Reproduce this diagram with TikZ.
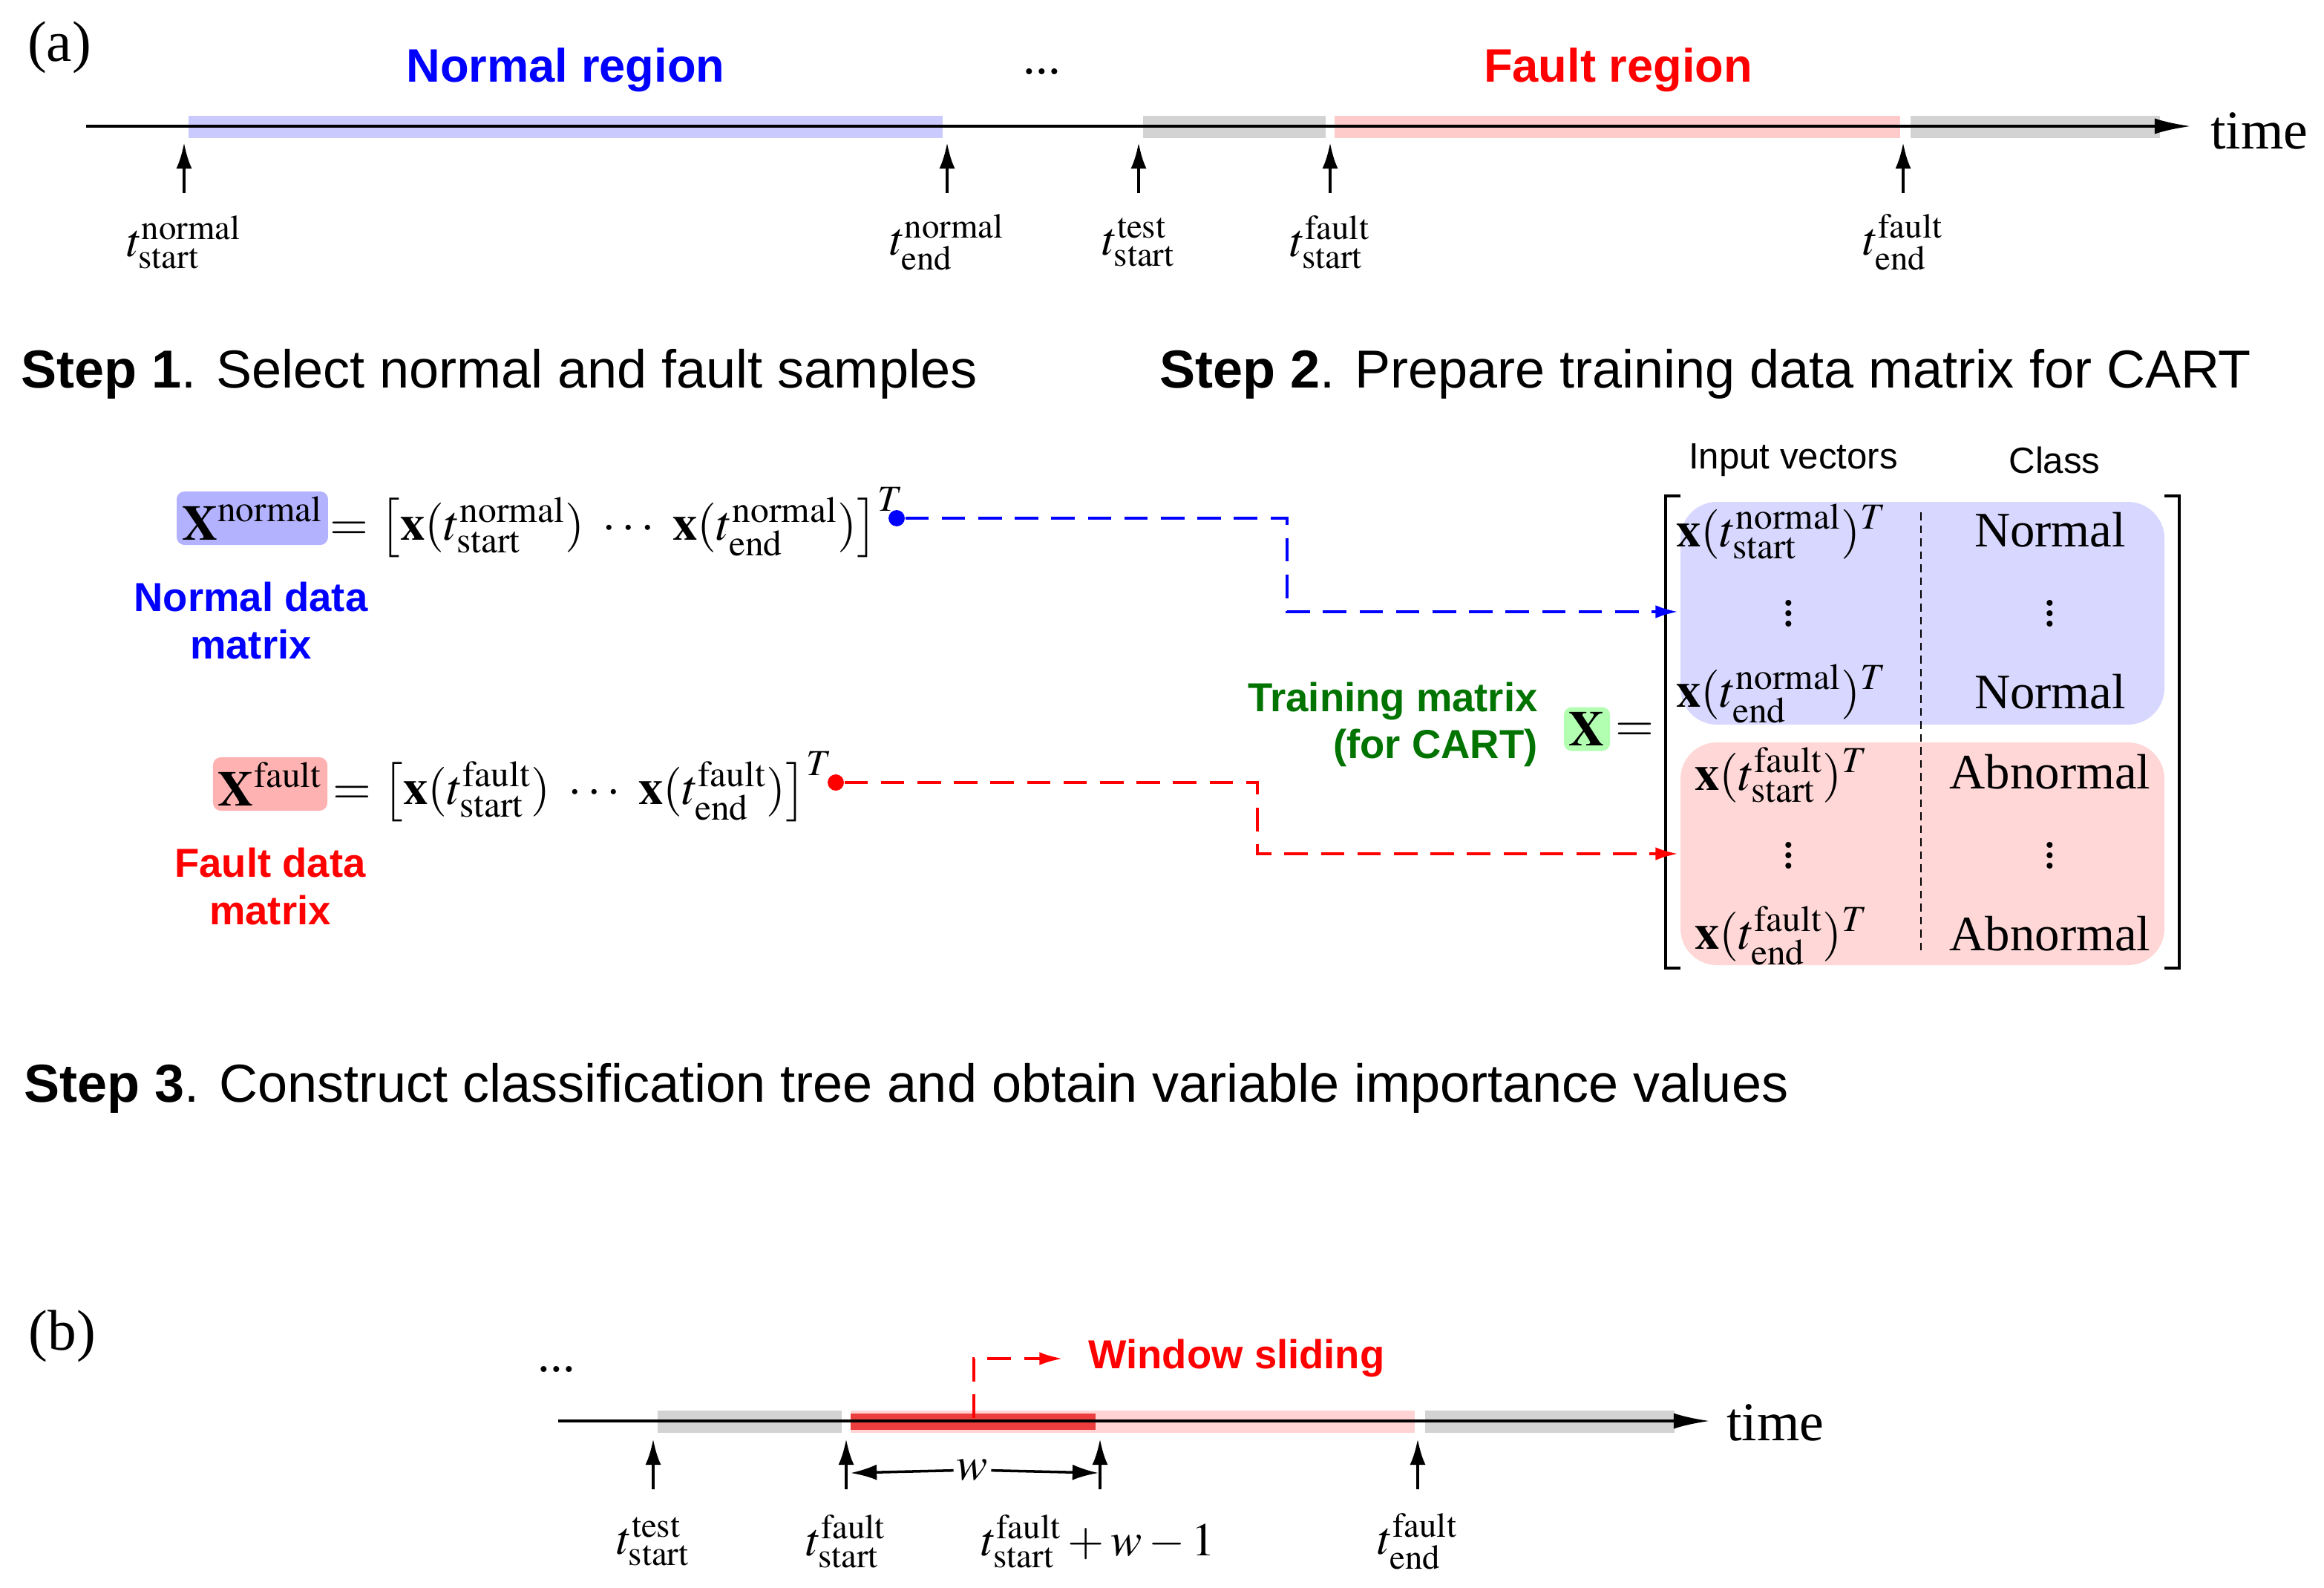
\documentclass[tikz,border=0pt]{standalone}
\usepackage{mathptmx}
\usepackage{fontspec}
\setmainfont{Liberation Serif}
\newfontfamily\sansf{Liberation Sans}
\usetikzlibrary{arrows.meta}
\newcommand\tl[2]{$t^{\mathrm{#1}}_{\mathrm{#2}}$}
\begin{document}
\begin{tikzpicture}[x=0.02cm,y=-0.02cm,
  lab/.style={font=\sansf\bfseries\fontsize{15.5}{18}\selectfont},
  steptxt/.style={font=\sansf\fontsize{20.5}{24}\selectfont,anchor=west},
  tlab/.style={font=\fontsize{18}{20}\selectfont},
  big/.style={font=\fontsize{19}{22}\selectfont},
  up/.style={-{Latex[length=10pt,width=6pt]},line width=1.3pt},
  axis/.style={-{Latex[length=14pt,width=6pt]},line width=1.2pt},
  band/.style={fill opacity=0.35},
  dot/.style={circle,fill,inner sep=2.2pt},
  conn/.style={dashed,dash pattern=on 9pt off 5pt,line width=1.4pt,-{Latex[length=9pt,width=5pt]}}]
\useasboundingbox (0,0) rectangle (1565.5,1069);
% (a)
\node[big,font=\fontsize{22}{24}\selectfont] (pa) at (40,32) {(a)};
\fill[blue!60,band] (127,78) rectangle (635,93);
\fill[gray,band] (770,78) rectangle (893,93);
\fill[red!60,band] (899,78) rectangle (1280,93);
\fill[gray,band] (1287,78) rectangle (1455,93);
\coordinate (a0) at (58,85); \coordinate (a1) at (1476,85);
\draw[axis] (a0) -- (a1);
\node[lab,text=blue,font=\sansf\bfseries\fontsize{18}{20}\selectfont] (nr) at (381,47) {Normal region};
\node[lab,text=red,font=\sansf\bfseries\fontsize{18}{20}\selectfont] (fr) at (1090,47) {Fault region};
\node[big] (d1) at (702,48) {...};
\node[big,font=\fontsize{21}{24}\selectfont] (t1) at (1522,88) {time};
\foreach \x/\s/\b/\n in {124/normal/start/u1,638/normal/end/u2,767/test/start/u3,896/fault/start/u4,1282/fault/end/u5}{
  \coordinate (\n b) at (\x,130); \coordinate (\n t) at (\x,96);
  \draw[up] (\n b) -- (\n t);
  \node[tlab] (\n l) at (\x,163) {\tl{\s}{\b}};
}
\node[steptxt] (s1) at (8,252) {\textbf{Step 1}. Select normal and fault samples};
\node[steptxt] (s2) at (775,252) {\textbf{Step 2}. Prepare training data matrix for CART};
% normal matrix
\node[fill=blue!30,rounded corners=3pt,inner sep=2pt,big] (xn) at (170,349) {$\mathbf{X}^{\mathrm{normal}}$};
\node[big,anchor=west,inner sep=0pt] (en) at (222,352) {$=\left[\mathbf{x}(t^{\mathrm{normal}}_{\mathrm{start}})\ \cdots\ \mathbf{x}(t^{\mathrm{normal}}_{\mathrm{end}})\right]^T$};
\node[dot,blue] (pn) at (604,349) {};
\node[lab,text=blue,align=center] (ln) at (169,418) {Normal data\\matrix};
% fault matrix
\node[fill=red!30,rounded corners=3pt,inner sep=2pt,big] (xf) at (182,528) {$\mathbf{X}^{\mathrm{fault}}$};
\node[big,anchor=west,inner sep=0pt] (ef) at (224,530) {$=\left[\mathbf{x}(t^{\mathrm{fault}}_{\mathrm{start}})\ \cdots\ \mathbf{x}(t^{\mathrm{fault}}_{\mathrm{end}})\right]^T$};
\node[dot,red] (pf) at (563,527) {};
\node[lab,text=red,align=center] (lf) at (182,597) {Fault data\\matrix};
% training
\node[lab,text=green!45!black,align=right,anchor=east] (tm) at (1042,488) {Training matrix\\(for CART)};
\node[fill=green!30,rounded corners=3pt,inner sep=2pt,big] (xx) at (1069,491) {$\mathbf{X}$};
\node[big] (eq) at (1101,493) {$=$};
\fill[blue!45,band,rounded corners=14pt] (1132,338) rectangle (1458,488);
\fill[red!45,band,rounded corners=14pt] (1132,500) rectangle (1458,650);
\draw[line width=1pt] (1132,334) -- (1122,334) -- (1122,652) -- (1132,652);
\draw[line width=1pt] (1458,334) -- (1468,334) -- (1468,652) -- (1458,652);
\draw[dash pattern=on 3pt off 2pt,line width=0.8pt] (1294,345) -- (1294,642);
\node[font=\sansf\fontsize{14}{16}\selectfont] (iv) at (1208,310) {Input vectors};
\node[font=\sansf\fontsize{14}{16}\selectfont] (cl) at (1384,310) {Class};
\node[big] (r1) at (1200,358) {$\mathbf{x}(t^{\mathrm{normal}}_{\mathrm{start}})^T$};
\node[big,inner sep=0pt] (r2) at (1205,408) {$\vdots$};
\node[big] (r3) at (1200,467) {$\mathbf{x}(t^{\mathrm{normal}}_{\mathrm{end}})^T$};
\node[big] (r4) at (1200,522) {$\mathbf{x}(t^{\mathrm{fault}}_{\mathrm{start}})^T$};
\node[big,inner sep=0pt] (r5) at (1205,571) {$\vdots$};
\node[big] (r6) at (1200,630) {$\mathbf{x}(t^{\mathrm{fault}}_{\mathrm{end}})^T$};
\node[big] (c1) at (1381,357) {Normal};
\node[big,inner sep=0pt] (c2) at (1381,408) {$\vdots$};
\node[big] (c3) at (1381,466) {Normal};
\node[big] (c4) at (1381,520) {Abnormal};
\node[big,inner sep=0pt] (c5) at (1381,571) {$\vdots$};
\node[big] (c6) at (1381,629) {Abnormal};
\coordinate (en1) at (1131,412); \coordinate (ef1) at (1131,575);
\draw[conn,blue] (pn) -- (867,349) -- (867,412) -- (en1);
\draw[conn,red] (pf) -- (847,527) -- (847,575) -- (ef1);
\node[steptxt] (s3) at (10,733) {\textbf{Step 3}. Construct classification tree and obtain variable importance values};
% (b)
\node[big,font=\fontsize{22}{24}\selectfont] (pb) at (42,900) {(b)};
\fill[gray,band] (443,950) rectangle (567,965);
\fill[red!50,band] (573,950) rectangle (953,965);
\fill[red!90!black,opacity=0.7] (573,952) rectangle (738,963);
\fill[gray,band] (960,950) rectangle (1128,965);
\coordinate (b0) at (376,957); \coordinate (b1) at (1152,957);
\draw[axis] (b0) -- (b1);
\node[big] (d2) at (375,922) {...};
\node[big,font=\fontsize{21}{24}\selectfont] (t2) at (1196,958) {time};
\foreach \x/\s/\b/\n in {440/test/start/v1,570/fault/start/v2,955/fault/end/v4}{
  \coordinate (\n b) at (\x,1003); \coordinate (\n t) at (\x,969);
  \draw[up] (\n b) -- (\n t);
  \node[tlab] (\n l) at (\x,1038) {\tl{\s}{\b}};
}
\coordinate (v3b) at (741,1003); \coordinate (v3t) at (741,969);
\draw[up] (v3b) -- (v3t);
\node[tlab,anchor=west] (v3l) at (655,1038) {$t^{\mathrm{fault}}_{\mathrm{start}}+w-1$};
\coordinate (wl) at (573,992); \coordinate (wr) at (740,992);
\node[tlab,fill=white,inner sep=1pt] (wn) at (655,990) {$w$};
\draw[up,line width=1pt] (wn) -- (wr);
\draw[up,line width=1pt] (wn) -- (wl);
\coordinate (ws0) at (656,955); \coordinate (ws1) at (716,915);
\draw[conn,red,line width=1.2pt] (ws0) -- (656,915) -- (ws1);
\node[lab,text=red] (wsl) at (833,915) {Window sliding};
\end{tikzpicture}
\end{document}
